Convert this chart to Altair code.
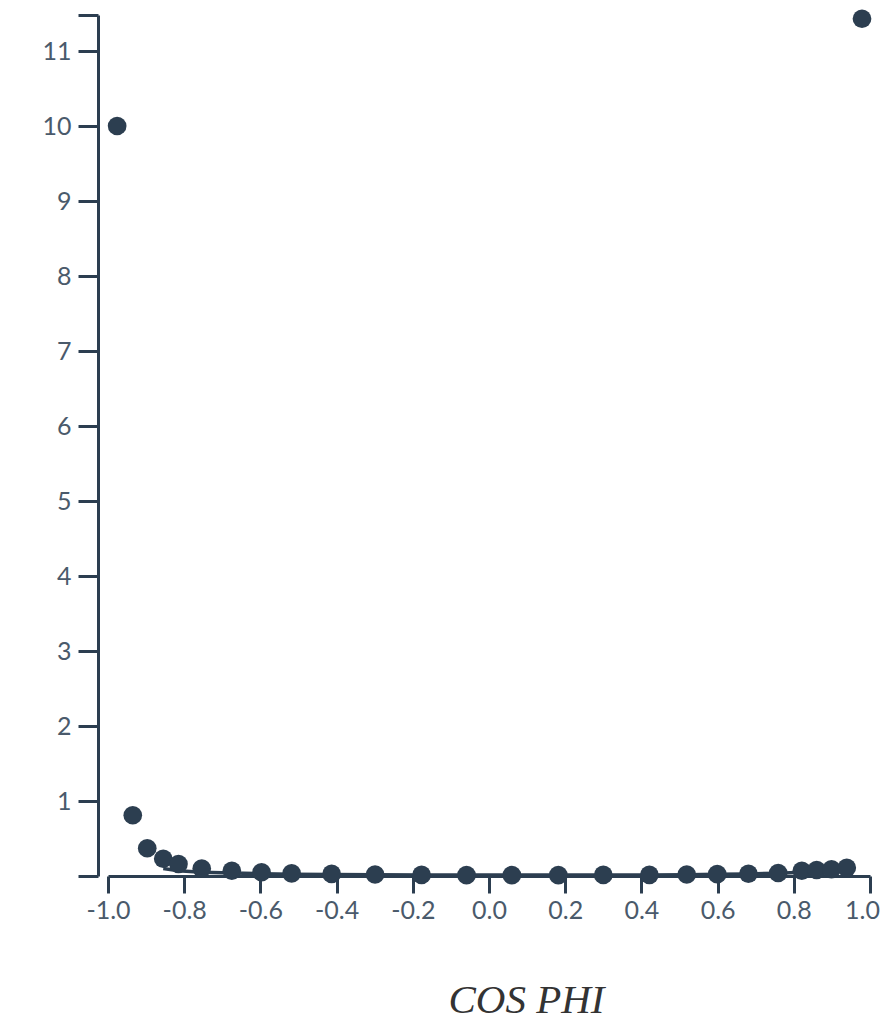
import altair as alt
import pandas as pd

# Data
cos_phi = [-0.976, -0.935, -0.897, -0.855, -0.815, -0.754, -0.675, -0.597, -0.518,
           -0.413, -0.299, -0.177, -0.059, 0.060, 0.182, 0.300, 0.421, 0.519,
           0.599, 0.681, 0.759, 0.821, 0.860, 0.899, 0.939, 0.979]
values = [10.0, 0.81, 0.37, 0.23, 0.16, 0.10, 0.07, 0.05, 0.035,
          0.027, 0.02, 0.015, 0.012, 0.012, 0.012, 0.015, 0.016, 0.02,
          0.025, 0.03, 0.04, 0.07, 0.08, 0.09, 0.11, 11.43]

line_x = [-0.855, -0.815, -0.754, -0.675, -0.597, -0.518, -0.413, -0.299, -0.177,
          -0.059, 0.060, 0.182, 0.300, 0.421, 0.519, 0.599, 0.681, 0.759,
          0.821, 0.860, 0.899, 0.939]
line_y = [0.10, 0.07, 0.05, 0.04, 0.03, 0.025, 0.02, 0.018, 0.015,
          0.012, 0.012, 0.012, 0.013, 0.015, 0.018, 0.022, 0.028, 0.038,
          0.05, 0.06, 0.07, 0.085]

x_ticks = [-1.0, -0.8, -0.6, -0.4, -0.2, 0.0, 0.2, 0.4, 0.6, 0.8, 1.0]
y_ticks = [0, 1, 2, 3, 4, 5, 6, 7, 8, 9, 10, 11, 11.48]
y_max = 11.48

points_df = pd.DataFrame({"x": cos_phi, "y": values})
line_df = pd.DataFrame({"x": line_x, "y": line_y})

DARK = "#2c3e50"
LABEL = "#4a5a6b"

x_scale = alt.Scale(domain=[-1, 1], range=[10, 772], nice=False, zero=False)
y_scale = alt.Scale(domain=[0, y_max], nice=False, zero=True)

x_axis = alt.Axis(
    values=x_ticks,
    labelExpr="(datum.value < -0.0001 ? '-' : '') + format(abs(datum.value), '.1f')",
    grid=False,
    tickSize=17,
    tickWidth=3,
    tickColor=DARK,
    domainColor=DARK,
    domainWidth=3,
    labelFont="Lato",
    labelFontSize=25,
    labelColor=LABEL,
    labelPadding=5,
    labelFlush=False,
    labelOverlap=False,
    labelBound=False,
    labelOffset={"condition": {"test": "datum.value > 0.99", "value": -8}, "value": 0},
    title="COS PHI",
    titleFont="Liberation Serif",
    titleFontStyle="italic",
    titleFontWeight="normal",
    titleFontSize=41,
    titleColor="#333333",
    titleX=428,
    titleY=136,
    titleAlign="center",
    titleBaseline="alphabetic",
)

y_axis = alt.Axis(
    values=y_ticks,
    labelExpr="(datum.value == 0 || datum.value > 11.1) ? '' : format(datum.value, 'd')",
    grid=False,
    tickSize=20,
    tickWidth=3,
    tickColor=DARK,
    domainColor=DARK,
    domainWidth=3,
    labelFont="Lato",
    labelFontSize=25,
    labelColor=LABEL,
    labelPadding=7,
    labelFlush=False,
    labelOverlap=False,
    title=None,
)

line = alt.Chart(line_df).mark_line(color=DARK, strokeWidth=3.5).encode(
    x=alt.X("x:Q", scale=x_scale, axis=x_axis),
    y=alt.Y("y:Q", scale=y_scale, axis=y_axis),
)

points = alt.Chart(points_df).mark_circle(color=DARK, opacity=1, size=350).encode(
    x=alt.X("x:Q", scale=x_scale, axis=x_axis),
    y=alt.Y("y:Q", scale=y_scale, axis=y_axis),
)

chart = alt.layer(line, points).properties(
    width=772,
    height=861,
    autosize=alt.AutoSizeParams(type="none"),
    padding={"left": 90, "top": 7, "right": 14, "bottom": 148},
).configure_view(stroke=None)

chart.save("out.html", embed_options={"renderer": "svg", "actions": False})
